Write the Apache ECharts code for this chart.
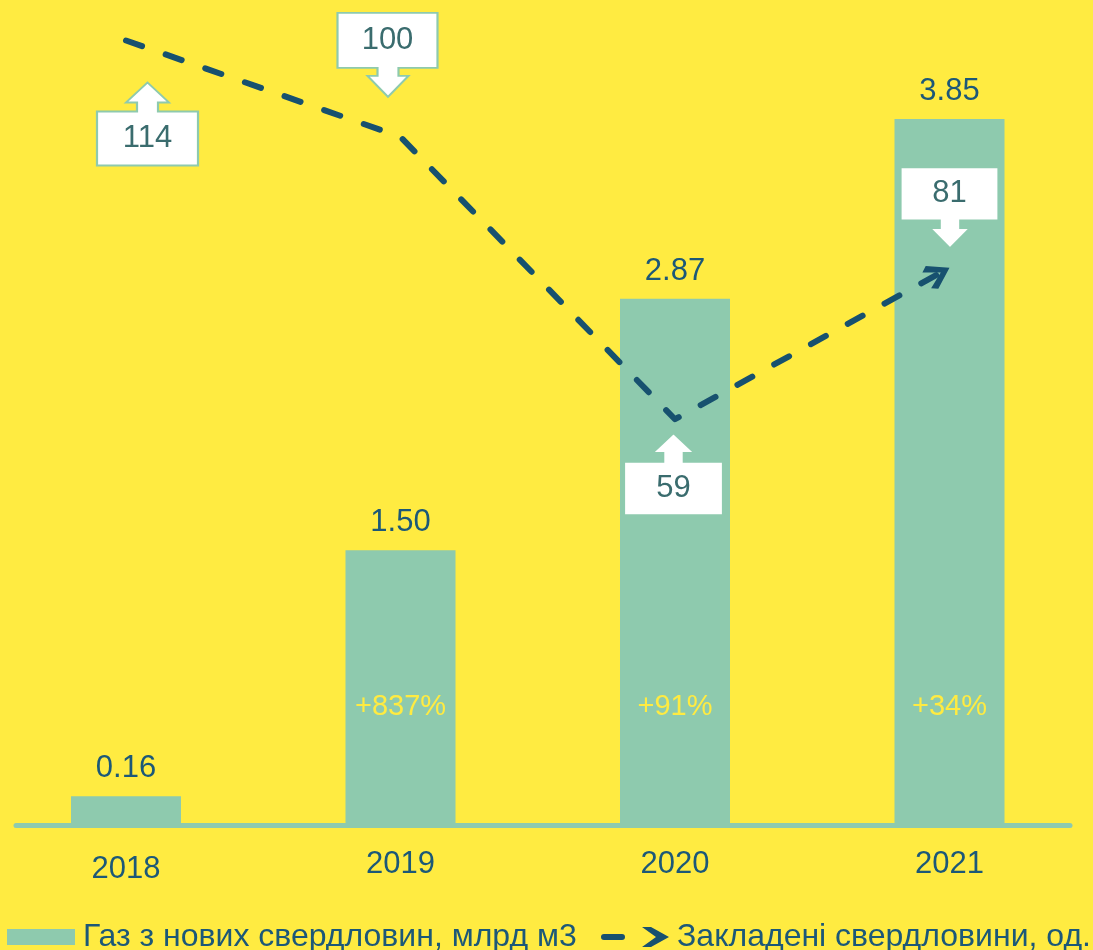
<!DOCTYPE html>
<html>
<head>
<meta charset="utf-8">
<script src="https://cdn.jsdelivr.net/npm/echarts@6/dist/echarts.min.js"></script>
<style>
html,body{margin:0;padding:0;background:#FFEB41;}
#chart{width:1093px;height:950px;}
</style>
</head>
<body>
<div id="chart"></div>
<script>
// ---- data ----
const categories = ['2018', '2019', '2020', '2021'];
const gasValues = [0.16, 1.50, 2.87, 3.85];          // Газ з нових свердловин, млрд м3
const wellValues = [114, 100, 59, 81];               // Закладені свердловини, од.
const pctLabels = ['', '+837%', '+91%', '+34%'];
const gasName = 'Газ з нових свердловин, млрд м3';
const wellName = 'Закладені свердловини, од.';

// ---- styles ----
const BG = '#FFEB41';
const BAR = '#8ECAAE';
const LINE = '#17516F';
const TXT = '#1C5878';
const CALLTXT = '#3A6C6E';
const FONT = '"Liberation Sans", Arial, sans-serif';

const UP_PATH = 'path://M50.5,0 L72,20 L61,20 L61,29 L101,29 L101,83 L0,83 L0,29 L40,29 L40,20 L29,20 Z';
const DOWN_PATH = 'path://M0,0 L100,0 L100,55 L61,55 L61,63 L71,63 L50.5,84 L30,63 L40,63 L40,55 L0,55 Z';
const ARROW_PATH = 'path://M0,4 L6,0 L26,13 L6,26 L0,22 L16,13 Z M52,13 L52,13.01 L51.99,13 Z';
const LEGEND_LINE_ICON = 'path://M3,7 L21,7 Q24,7 24,10 Q24,13 21,13 L3,13 Q0,13 0,10 Q0,7 3,7 Z M41,0 L50,0 L68,10 L50,20 L41,20 L55,10 Z';

// callout styling per point (direction, symbol size, offset, label offset)
const calloutStyle = [
  { path: UP_PATH,   size: [101, 83], offset: [21.5, 83.5], lab: [0, 14] },
  { path: DOWN_PATH, size: [100, 84], offset: [-13, -82],   lab: [0, -14.5] },
  { path: UP_PATH,   size: [99, 82],  offset: [-1.5, 55],   lab: [0, 14.5] },
  { path: DOWN_PATH, size: [98, 81],  offset: [0, -60],     lab: [0, -14.5] }
];

const lastIdx = wellValues.length - 1;
const lineData = wellValues.map((v, i) => i === lastIdx
  ? { value: v, symbol: ARROW_PATH, symbolSize: [52, 26], symbolRotate: 29 }
  : { value: v, symbol: 'none' });

const markData = wellValues.map((v, i) => ({
  coord: [i, v],
  value: v,
  symbol: calloutStyle[i].path,
  symbolSize: calloutStyle[i].size,
  symbolOffset: calloutStyle[i].offset,
  label: { offset: calloutStyle[i].lab }
}));

const xData = categories.map((c, i) => i === 0 ? { value: c, textStyle: { padding: [5, 0, 0, 0] } } : c);

const chart = echarts.init(document.getElementById('chart'), null, { renderer: 'canvas' });
chart.setOption({
  backgroundColor: BG,
  animation: false,
  textStyle: { fontFamily: FONT },
  grid: [
    { left: -11.25, right: 6.25, top: 18, bottom: 124.5, outerBoundsMode: 'none', containLabel: false },
    { left: 16, right: 23, top: 18, bottom: 124.5, outerBoundsMode: 'none', containLabel: false }
  ],
  legend: [
    {
      left: 7, top: 921, padding: 0,
      itemWidth: 68, itemHeight: 16,
      textStyle: { fontSize: 32, color: TXT, fontFamily: FONT, padding: [0, 0, 0, 3] },
      data: [{ name: gasName, icon: 'rect' }]
    },
    {
      left: 601, top: 921, padding: 0,
      itemWidth: 68, itemHeight: 20,
      textStyle: { fontSize: 32, color: TXT, fontFamily: FONT, padding: [0, 0, 0, 3] },
      data: [{ name: wellName, icon: LEGEND_LINE_ICON, itemStyle: { color: LINE } }]
    }
  ],
  xAxis: [
    {
      type: 'category', gridIndex: 0, data: xData,
      axisLine: { show: false }, axisTick: { show: false },
      axisLabel: { fontSize: 31, color: TXT, margin: 23, fontFamily: FONT }
    },
    {
      type: 'value', gridIndex: 1, min: 0, max: 1,
      axisLine: { show: true, lineStyle: { color: BAR, width: 5 } },
      axisTick: { show: false }, axisLabel: { show: false }, splitLine: { show: false }
    }
  ],
  yAxis: [
    { type: 'value', gridIndex: 0, min: 0, max: 4.4, show: false, splitLine: { show: false } },
    { type: 'value', gridIndex: 0, min: 0, max: 117.27, show: false, splitLine: { show: false } },
    { type: 'value', gridIndex: 1, min: 0, max: 1, show: false, splitLine: { show: false } }
  ],
  series: [
    {
      name: gasName, type: 'bar', xAxisIndex: 0, yAxisIndex: 0,
      data: gasValues, barWidth: 110,
      itemStyle: { color: BAR },
      label: {
        show: true, position: 'top', distance: 12,
        fontSize: 31, color: TXT, fontFamily: FONT,
        formatter: p => p.value.toFixed(2)
      }
    },
    {
      name: 'pct', type: 'bar', xAxisIndex: 0, yAxisIndex: 0,
      data: gasValues, barWidth: 110, barGap: '-100%', silent: true,
      itemStyle: { color: 'rgba(0,0,0,0)' },
      label: {
        show: true, position: 'insideBottom', distance: 104,
        fontSize: 29, color: BG, fontFamily: FONT,
        formatter: p => pctLabels[p.dataIndex]
      }
    },
    {
      name: wellName, type: 'line', xAxisIndex: 0, yAxisIndex: 1,
      data: lineData,
      z: 5,
      itemStyle: { color: LINE },
      lineStyle: { color: LINE, width: 6, type: [17, 25], cap: 'round', join: 'round' },
      markPoint: {
        z: 6,
        itemStyle: { color: '#FFFFFF', borderColor: BAR, borderWidth: 2 },
        label: {
          show: true, position: 'inside', fontSize: 31, color: CALLTXT, fontFamily: FONT,
          formatter: p => String(p.value)
        },
        data: markData
      }
    }
  ]
});
</script>
</body>
</html>
